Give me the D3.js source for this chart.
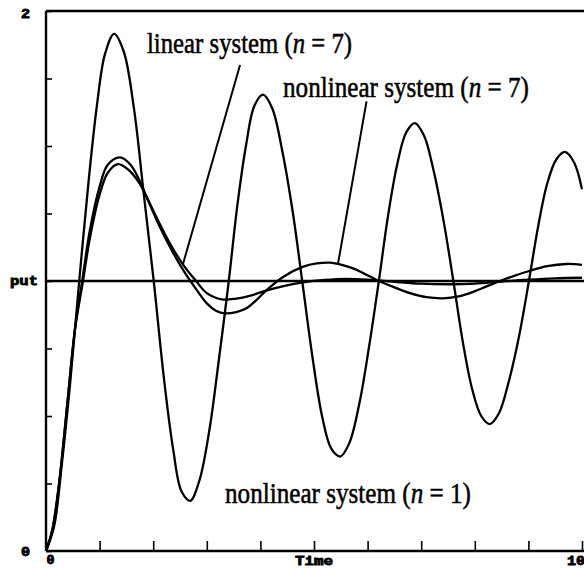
<!DOCTYPE html>
<html><head><meta charset="utf-8">
<script src="https://cdn.jsdelivr.net/npm/d3@7"></script>
<style>html,body{margin:0;padding:0;background:#fff;}svg{display:block;}</style>
</head><body>
<svg id="chart" width="584" height="569"></svg>
<script>
// ---- data ----
const xTicks = [0,1,2,3,4,5,6,7,8,9,10];
const yTicks = [0,0.25,0.5,0.75,1,1.25,1.5,1.75,2];
const referenceLevel = 1;

const nonlinearN1 = [[0,0],[0.15,0.09],[0.3,0.33],[0.45,0.62],[0.62,1.0],[0.8,1.38],[0.95,1.65],[1.1,1.84],[1.27,1.915],[1.45,1.85],[1.64,1.64],[1.82,1.33],[2.01,1.0],[2.2,0.64],[2.37,0.38],[2.53,0.22],[2.69,0.186],[2.86,0.26],[3.05,0.45],[3.22,0.7],[3.41,1.0],[3.57,1.28],[3.73,1.5],[3.89,1.65],[4.05,1.69],[4.22,1.64],[4.41,1.48],[4.6,1.26],[4.78,1.0],[4.97,0.72],[5.15,0.5],[5.32,0.38],[5.49,0.35],[5.66,0.4],[5.85,0.55],[6.03,0.76],[6.21,1.0],[6.38,1.24],[6.55,1.43],[6.72,1.55],[6.88,1.585],[7.05,1.54],[7.23,1.41],[7.42,1.22],[7.6,1.0],[7.78,0.77],[7.95,0.6],[8.12,0.5],[8.28,0.47],[8.45,0.51],[8.65,0.64],[8.83,0.8],[9.01,1.0],[9.18,1.2],[9.35,1.36],[9.52,1.45],[9.68,1.478],[9.85,1.44],[10,1.34]];

const nonlinearN7 = [[0,0],[0.12,0.08],[0.25,0.26],[0.4,0.55],[0.54,0.82],[0.69,1.02],[0.82,1.19],[1.0,1.35],[1.15,1.43],[1.38,1.458],[1.58,1.43],[1.75,1.37],[1.88,1.31],[2.1,1.21],[2.31,1.127],[2.56,1.04],[2.8,0.97],[3.0,0.917],[3.17,0.89],[3.34,0.88],[3.55,0.885],[3.74,0.899],[3.93,0.93],[4.12,0.967],[4.43,1.016],[4.8,1.053],[5.05,1.065],[5.3,1.068],[5.52,1.06],[5.73,1.047],[5.95,1.026],[6.17,1.004],[6.48,0.978],[6.79,0.955],[7.1,0.94],[7.41,0.936],[7.7,0.943],[7.97,0.96],[8.22,0.98],[8.47,1.0],[8.75,1.02],[9.03,1.038],[9.35,1.055],[9.71,1.063],[10,1.06]];

const linearN7 = [[0,0],[0.12,0.08],[0.25,0.26],[0.4,0.55],[0.54,0.82],[0.69,1.0],[0.82,1.16],[1.0,1.32],[1.15,1.4],[1.34,1.433],[1.55,1.41],[1.75,1.36],[1.88,1.31],[2.1,1.22],[2.31,1.14],[2.56,1.06],[2.8,1.0],[3.0,0.955],[3.28,0.932],[3.55,0.935],[3.8,0.945],[4.12,0.965],[4.45,0.982],[4.8,0.995],[5.2,1.004],[5.6,1.008],[6.0,1.005],[6.5,0.997],[7.0,0.99],[7.5,0.988],[8.0,0.99],[8.5,0.998],[9.0,1.005],[9.5,1.01],[10,1.012]];

// annotation pointers in data units: [from, to]
const linearPointer = [[3.62,1.80],[2.556,1.063]];
const nonlinearPointer = [[5.98,1.665],[5.45,1.066]];

// ---- layout ----
const svg = d3.select("#chart");
const x = d3.scaleLinear().domain([0,10]).range([46,582]);
const y = d3.scaleLinear().domain([0,2]).range([551,11]);
const W = 584;

// axes ticks
const gx = svg.append("g").attr("transform",`translate(0,${y(0)})`)
  .call(d3.axisBottom(x).tickValues(xTicks).tickSize(-10).tickFormat(""));
gx.select(".domain").remove();
gx.selectAll("line").attr("stroke","#000").attr("stroke-width",1.6);

const gy = svg.append("g").attr("transform",`translate(${x(0)},0)`)
  .call(d3.axisLeft(y).tickValues(yTicks).tickSize(-6).tickFormat(""));
gy.select(".domain").remove();
gy.selectAll("line").attr("stroke","#000").attr("stroke-width",1.6);

// frame lines
svg.append("line").attr("x1",x(0)).attr("x2",W).attr("y1",y(0)).attr("y2",y(0)).attr("stroke","#000").attr("stroke-width",2.4);
svg.append("line").attr("x1",x(0)).attr("x2",W).attr("y1",y(2)).attr("y2",y(2)).attr("stroke","#000").attr("stroke-width",2.4);
svg.append("line").attr("x1",x(0)).attr("x2",x(0)).attr("y1",y(0)).attr("y2",y(2)).attr("stroke","#000").attr("stroke-width",2.4);

// reference level
svg.append("line").attr("x1",x(0)).attr("x2",W).attr("y1",y(referenceLevel)).attr("y2",y(referenceLevel)).attr("stroke","#000").attr("stroke-width",2.4);

// curves
const line = d3.line().x(d=>x(d[0])).y(d=>y(d[1])).curve(d3.curveCatmullRom.alpha(0.5));
[nonlinearN1, nonlinearN7, linearN7].forEach(s=>{
  svg.append("path").datum(s).attr("d",line).attr("fill","none").attr("stroke","#000").attr("stroke-width",2.3).attr("stroke-linejoin","round");
});

// pointers
[linearPointer, nonlinearPointer].forEach(p=>{
  svg.append("line").attr("x1",x(p[0][0])).attr("y1",y(p[0][1])).attr("x2",x(p[1][0])).attr("y2",y(p[1][1]))
    .attr("stroke","#000").attr("stroke-width",2);
});

// annotation labels
function label(px, py, pre, num, width){
  const g = svg.append("g").attr("transform",`translate(${px},${py}) scale(1,1.2)`);
  const t = g.append("text").attr("x",0).attr("y",0)
    .attr("font-family","'Liberation Serif','Times New Roman',serif").attr("font-size",25).attr("fill","#000")
    .attr("stroke","#000").attr("stroke-width",0.45)
    .attr("textLength",width).attr("lengthAdjust","spacingAndGlyphs");
  t.append("tspan").text(pre + " (");
  t.append("tspan").attr("font-style","italic").text("n");
  t.append("tspan").text(" = " + num + ")");
}
label(147, 53, "linear system", "7", 205);
label(283, 97, "nonlinear system", "7", 246);
label(225, 503, "nonlinear system", "1", 246);

// tick labels (blocky bold)
function tlabel(txt, px, py, width, anchor){
  svg.append("text").attr("x",px).attr("y",py).text(txt)
    .attr("font-family","'Liberation Mono','DejaVu Sans Mono',monospace").attr("font-weight","bold")
    .attr("font-size",12).attr("fill","#000").attr("stroke","#000").attr("stroke-width",0.8)
    .attr("text-anchor",anchor||"start")
    .attr("textLength",width).attr("lengthAdjust","spacingAndGlyphs");
}
tlabel("2", 21, y(2)+7, 9);
tlabel("put", 10, y(1)+4, 28);
tlabel("0", 21, y(0)+5, 9);
tlabel("0", 46.5, 564, 8);
tlabel("Time", 295, 565, 38);
tlabel("10", 567, 565, 18);
</script>
</body></html>
